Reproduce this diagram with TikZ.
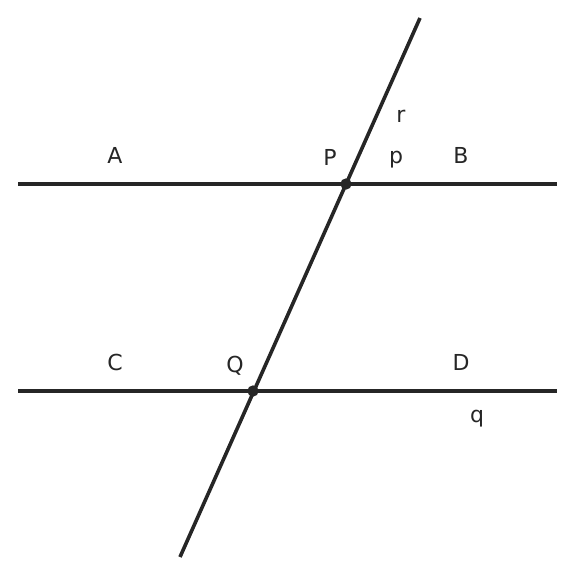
\documentclass[tikz,border=0pt]{standalone}
\usepackage{fontspec}
\setmainfont{DejaVu Sans}
\definecolor{ink}{RGB}{38,38,38}
\tikzset{every picture/.style={line width=0.75pt}}
\tikzset{
  lineseg/.style={color=ink, line width=2.7pt},
  ptdot/.style={circle, fill=ink, inner sep=0pt, minimum size=8.5pt},
  lbl/.style={inner sep=0.75pt, text=ink, font=\fontsize{16.5}{18}\selectfont},
}

\begin{document}
\begin{tikzpicture}[x=0.75pt,y=0.75pt,yscale=-1,xscale=1]
\useasboundingbox (0,0) rectangle (576,576);

% end points of the lines
\coordinate (AB1) at (18,184);
\coordinate (AB2) at (557,184);
\coordinate (CD1) at (18,391);
\coordinate (CD2) at (557,391);
\coordinate (Tt) at (420,18);
\coordinate (Tb) at (180,557);

%Straight Lines
\draw [lineseg] (AB1) -- (AB2);
\draw [lineseg] (CD1) -- (CD2);
\draw [lineseg] (Tt) -- (Tb);

%Shape: points
\node [ptdot] (Pt) at (346,184) {};
\node [ptdot] (Qt) at (253,391) {};

% Text Node
\node [lbl] (A) at (115,155) {A};
% Text Node
\node [lbl] (B) at (461,155) {B};
% Text Node
\node [lbl] (P) at (330,157) {P};
% Text Node
\node [lbl] (p) at (396,160) {p};
% Text Node
\node [lbl] (r) at (401,116) {r};
% Text Node
\node [lbl] (C) at (115,362) {C};
% Text Node
\node [lbl] (D) at (461,362) {D};
% Text Node
\node [lbl] (Q) at (235,366) {Q};
% Text Node
\node [lbl] (q) at (477,419) {q};

\end{tikzpicture}
\end{document}
